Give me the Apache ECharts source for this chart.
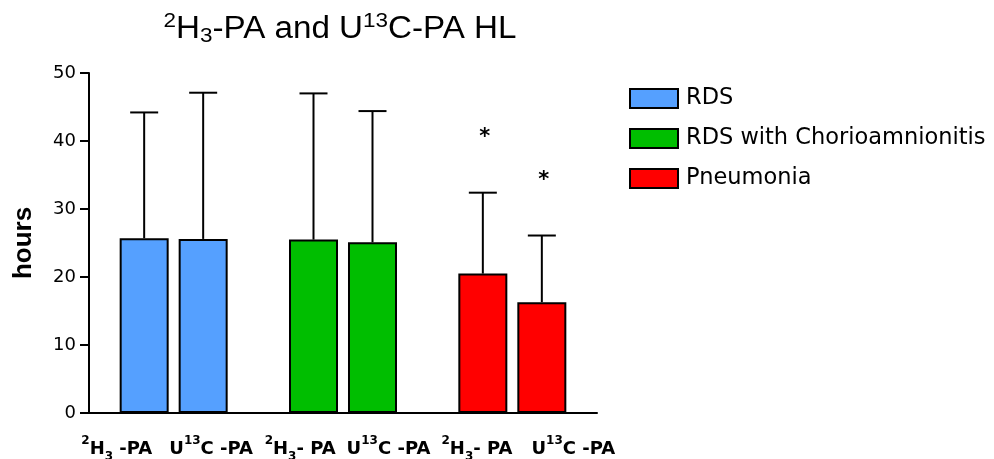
<!DOCTYPE html>
<html>
<head>
<meta charset="utf-8">
<script src="https://cdn.jsdelivr.net/npm/echarts@6/dist/echarts.min.js"></script>
<style>
  html, body { margin: 0; padding: 0; background: #fff; }
  #chart { width: 994px; height: 459px; }
</style>
</head>
<body>
<div id="chart"></div>
<script>
// Patient groups (one colour each) and the two labelled tracers
const groups = ['RDS', 'RDS with Chorioamnionitis', 'Pneumonia'];
const groupColors = ['#55A0FF', '#00BE00', '#FF0000'];

// Half-life means and upper end of the SD whisker, hours
const meanH3 = [25.7, 25.5, 20.5];
const upperH3 = [44.2, 47.0, 32.4];
const meanU13C = [25.6, 25.1, 16.3];
const upperU13C = [47.1, 44.4, 26.1];

// Groups marked with an asterisk
const sigH3 = [false, false, true];
const sigU13C = [false, false, true];

// y axis
const yMin = 0, yMax = 50, yStep = 10;

const BAR_W = 49;
const BAR_GAP = 10;

const tracerMeans = [meanH3, meanU13C];
const tracerUppers = [upperH3, upperU13C];
const tracerSig = [sigH3, sigU13C];

const FONT = 'DejaVu Sans';

const series = [];
groups.forEach((g, gi) => {
  tracerMeans.forEach((means, ti) => {
    series.push({
      type: 'bar',
      name: g,
      stack: 'tracer' + ti,
      barWidth: BAR_W,
      barGap: (BAR_GAP / BAR_W * 100).toFixed(1) + '%',
      itemStyle: { color: groupColors[gi], borderColor: '#000', borderWidth: 2 },
      data: groups.map((_, i) => (i === gi ? means[i] : '-'))
    });
  });
});

// SD whiskers with caps, plus significance asterisks
tracerMeans.forEach((means, ti) => {
  series.push({
    type: 'custom',
    name: 'sd' + ti,
    z: 5,
    encode: { x: 0, y: 2 },
    data: means.map((m, i) => [i, m, tracerUppers[ti][i], tracerSig[ti][i] ? 1 : 0]),
    renderItem(params, api) {
      const c = api.value(0);
      const off = (ti === 0 ? -1 : 1) * (BAR_W + BAR_GAP) / 2;
      const base = api.coord([c, api.value(1)]);
      const top = api.coord([c, api.value(2)]);
      const x = base[0] + off;
      const stroke = { stroke: '#000', lineWidth: 2 };
      const children = [
        { type: 'line', shape: { x1: x, y1: base[1], x2: x, y2: top[1] }, style: stroke },
        { type: 'line', shape: { x1: x - 14, y1: top[1], x2: x + 14, y2: top[1] }, style: stroke }
      ];
      if (api.value(3)) {
        children.push({
          type: 'text',
          style: {
            text: '*', x: x + 2, y: top[1] - 55,
            align: 'center', verticalAlign: 'middle',
            font: 'bold 21px "DejaVu Sans"', fill: '#000'
          }
        });
      }
      return { type: 'group', children };
    }
  });
});

const supRich = { fontSize: 12, fontWeight: 'bold', fontFamily: FONT, lineHeight: 14, verticalAlign: 'top', color: '#000' };
const subRich = { fontSize: 12, fontWeight: 'bold', fontFamily: FONT, lineHeight: 14, verticalAlign: 'bottom', color: '#000' };
const mainRich = { fontSize: 18, fontWeight: 'bold', fontFamily: FONT, lineHeight: 28, verticalAlign: 'middle', color: '#000' };

// Two tracer labels under each group, set a little apart
const xLabels = [
  '{sup|2}{m|H}{sub|3}{m| -PA}{s17|}{m|U}{sup|13}{m|C -PA}{s13|}',
  '{s9|}{sup|2}{m|H}{sub|3}{m|- PA}{s11|}{m|U}{sup|13}{m|C -PA}',
  '{s32|}{sup|2}{m|H}{sub|3}{m|- PA}{s19|}{m|U}{sup|13}{m|C -PA}'
];
const spacers = {};
[9, 11, 13, 17, 19, 32].forEach(w => { spacers['s' + w] = { width: w }; });

const chart = echarts.init(document.getElementById('chart'), null, { renderer: 'canvas' });
chart.setOption({
  animation: false,
  backgroundColor: '#fff',
  grid: { left: 89, right: 397, top: 73, bottom: 46, outerBoundsMode: 'none', containLabel: false },
  graphic: [{
    type: 'text',
    x: 340, y: 11,
    scaleX: 1.07,
    style: {
      text: '{sup|2}{m|H}{sub|3}{m|-PA and U}{sup|13}{m|C-PA HL}',
      align: 'center',
      verticalAlign: 'top',
      rich: {
        m: { fontSize: 31, fontFamily: 'Liberation Sans', lineHeight: 36, verticalAlign: 'middle', fill: '#000' },
        sup: { fontSize: 21, fontFamily: 'Liberation Sans', lineHeight: 21, verticalAlign: 'top', fill: '#000' },
        sub: { fontSize: 21, fontFamily: 'Liberation Sans', lineHeight: 21, verticalAlign: 'bottom', fill: '#000' }
      }
    }
  }],
  legend: {
    data: groups,
    orient: 'vertical',
    left: 624, top: 82,
    itemWidth: 48, itemHeight: 19, itemGap: 17,
    icon: 'rect',
    selectedMode: false,
    textStyle: { fontFamily: FONT, fontSize: 22.5, color: '#000', padding: [0, 0, 0, 3] }
  },
  xAxis: {
    type: 'category',
    data: groups,
    axisLine: { lineStyle: { color: '#000', width: 2 } },
    axisTick: { alignWithLabel: true, length: 9, lineStyle: { color: '#000', width: 2 } },
    axisLabel: {
      interval: 0,
      margin: 22,
      formatter: (v, i) => xLabels[i],
      rich: Object.assign({ sup: supRich, sub: subRich, m: mainRich }, spacers)
    }
  },
  yAxis: {
    type: 'value',
    min: yMin, max: yMax, interval: yStep,
    name: 'hours',
    nameLocation: 'middle',
    nameGap: 52,
    nameTextStyle: { fontFamily: 'Liberation Sans', fontWeight: 'bold', fontSize: 26, color: '#000' },
    axisLine: { show: true, lineStyle: { color: '#000', width: 2 } },
    axisTick: { show: true, length: 9, lineStyle: { color: '#000', width: 2 } },
    axisLabel: { fontFamily: FONT, fontSize: 18, color: '#000', margin: 13 },
    splitLine: { show: false }
  },
  series
});
</script>
</body>
</html>
